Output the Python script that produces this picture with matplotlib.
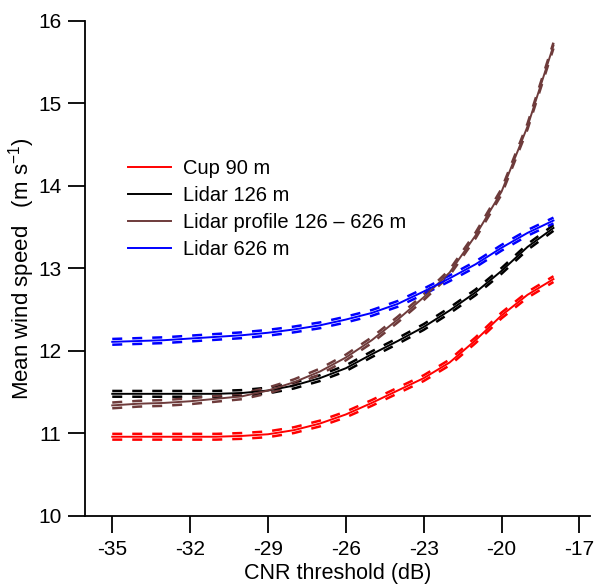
import matplotlib
matplotlib.use('Agg')
import matplotlib.pyplot as plt
import numpy as np

# CNR threshold (dB)
cnr = [-35, -34, -33, -32, -31, -30, -29, -28, -27, -26,
       -25, -24, -23, -22, -21, -20, -19, -18]

# mean wind speed (m/s) per series
cup_90 = [10.96, 10.96, 10.96, 10.96, 10.96, 10.97, 10.99, 11.04, 11.12, 11.23,
          11.37, 11.52, 11.67, 11.86, 12.13, 12.43, 12.68, 12.87]
lidar_126 = [11.48, 11.48, 11.48, 11.48, 11.48, 11.49, 11.52, 11.58, 11.67, 11.79,
             11.96, 12.12, 12.29, 12.49, 12.71, 12.97, 13.26, 13.49]
lidar_profile = [11.34, 11.36, 11.37, 11.39, 11.42, 11.45, 11.52, 11.62, 11.75, 11.92,
                 12.13, 12.38, 12.65, 12.95, 13.40, 13.93, 14.72, 15.70]
lidar_626 = [12.11, 12.12, 12.13, 12.15, 12.17, 12.19, 12.22, 12.26, 12.31, 12.38,
             12.46, 12.57, 12.72, 12.88, 13.05, 13.25, 13.43, 13.58]

# half width of the dashed uncertainty band
band_half = 0.035

labels = ['Cup 90 m', 'Lidar 126 m', 'Lidar profile 126 \u2013 626 m', 'Lidar 626 m']
colors = ['#ff0000', '#000000', '#6e3b3b', '#0000ff']
series = [cup_90, lidar_126, lidar_profile, lidar_626]

plt.rcParams['font.family'] = ['Liberation Sans', 'DejaVu Sans']
plt.rcParams['font.size'] = 15
plt.rcParams['axes.unicode_minus'] = False
plt.rcParams['mathtext.default'] = 'regular'

fig = plt.figure(figsize=(5.96, 5.86), dpi=100)
ax = fig.add_axes([0.1426, 0.1195, 0.847, 0.845])

x = np.array(cnr)
for y, c, lab in zip(series, colors, labels):
    y = np.array(y)
    ax.plot(x, y, color=c, linewidth=1.4, label=lab, zorder=3)
    for s in (-1, 1):
        ax.plot(x, y + s * band_half, color=c, linewidth=1.8,
                linestyle=(0, (4, 4)), zorder=2)

ax.set_xlim(-36.05, -16.6)
ax.set_ylim(10, 16)
ax.set_xticks([-35, -32, -29, -26, -23, -20, -17])
ax.set_yticks([10, 11, 12, 13, 14, 15, 16])

for side in ('top', 'right'):
    ax.spines[side].set_visible(False)
for side in ('left', 'bottom'):
    ax.spines[side].set_linewidth(1.3)
ax.tick_params(axis='both', direction='out', length=12, width=1.3,
               labelsize=15, pad=5)

ax.set_xlabel('CNR threshold (dB)', fontsize=15.5, labelpad=3)
ax.set_ylabel('Mean wind speed   (m s$^{-1}$)', fontsize=16, labelpad=1)

ax.legend(loc='upper left', bbox_to_anchor=(0.05, 0.758), frameon=False,
          fontsize=14.5, handlelength=2.1, handletextpad=0.6, labelspacing=0.4)

plt.savefig('out.png', dpi=100, facecolor='white')
plt.close()
